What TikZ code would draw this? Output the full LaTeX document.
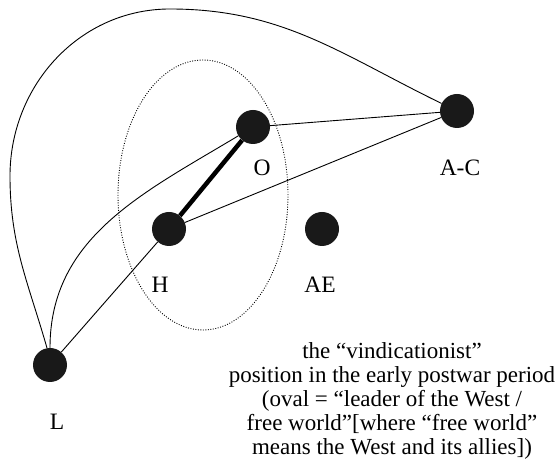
\documentclass[tikz,border=0pt]{standalone}
\usepackage{fontspec}
\setmainfont{Liberation Serif}
\begin{document}
\begin{tikzpicture}[x=1pt,y=1pt,
  dot/.style={circle,fill=black!90,inner sep=0pt,minimum size=34pt},
  lbl/.style={font=\fontsize{23.5}{26}\selectfont,inner sep=0pt},
  thin/.style={line width=0.9pt},
  thick line/.style={line width=4.5pt}]
\useasboundingbox (0,0) rectangle (560,476);
\node[dot] (O) at (253,349) {};
\node[dot] (AC) at (457,365) {};
\node[dot] (H) at (169,247) {};
\node[dot] (AE) at (322,247) {};
\node[dot] (L) at (50,111) {};
\node[lbl] (lO) at (262,308) {O};
\node[lbl] (lAC) at (460,308) {A-C};
\node[lbl] (lH) at (160,191) {H};
\node[lbl] (lAE) at (320,191) {AE};
\node[lbl] (lL) at (57,54) {L};
\draw[line width=0.9pt,dash pattern=on 0.9pt off 1.6pt] (203,281) ellipse [x radius=85, y radius=135];
\coordinate (p1) at (10,300);
\coordinate (p2) at (170,467);
\draw[thin] (L.100) to[out=106,in=-90] (p1) to[out=90,in=180] (p2) to[out=0,in=154] (AC);
\draw[thin] (L.90) to[out=90,in=211] (O);
\draw[thin] (L) -- (H);
\draw[thick line] (H) -- (O);
\draw[thin] (O) -- (AC);
\draw[thin] (H) -- (AC);
\node[font=\fontsize{23}{24}\selectfont,align=center,inner sep=0pt] (txt) at (392,75)
 {the “vindicationist”\\position in the early postwar period\\(oval = “leader of the West /\\free world”[where “free world”\\means the West and its allies])};
\end{tikzpicture}
\end{document}
